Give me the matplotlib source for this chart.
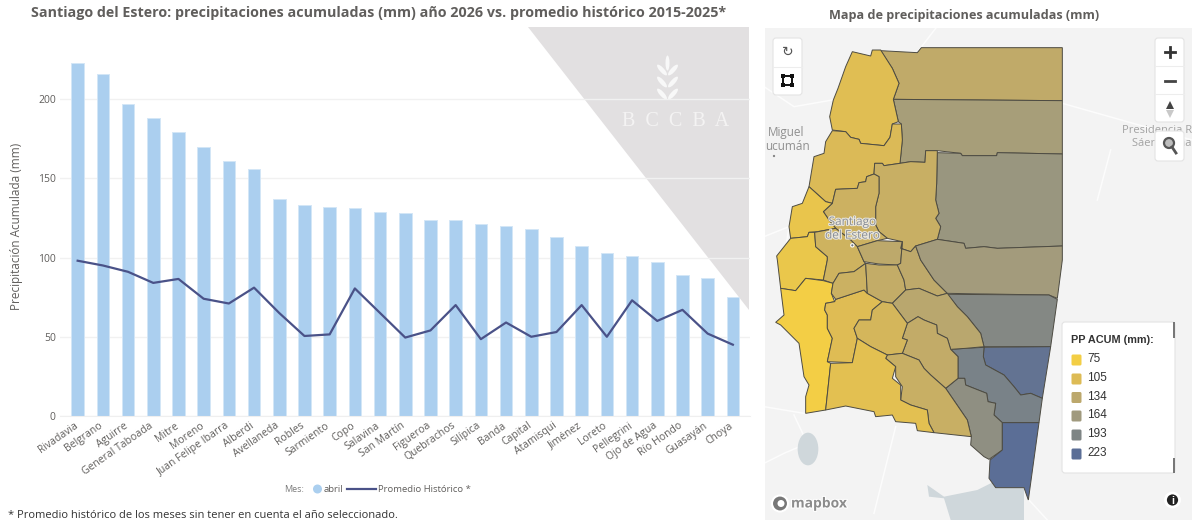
import matplotlib
matplotlib.use("Agg")
import matplotlib.pyplot as plt
import matplotlib.patheffects as pe
from matplotlib.colors import LinearSegmentedColormap, Normalize
from matplotlib.patches import Polygon, FancyBboxPatch, Ellipse, Circle, Rectangle
from matplotlib.transforms import ScaledTranslation

plt.rcParams['font.family'] = ['Open Sans', 'DejaVu Sans']

departamentos = ["Rivadavia", "Belgrano", "Aguirre", "General Taboada", "Mitre", "Moreno",
                 "Juan Felipe Ibarra", "Alberdi", "Avellaneda", "Robles", "Sarmiento", "Copo",
                 "Salavina", "San Martín", "Figueroa", "Quebrachos", "Silípica", "Banda",
                 "Capital", "Atamisqui", "Jiménez", "Loreto", "Pellegrini", "Ojo de Agua",
                 "Río Hondo", "Guasayán", "Choya"]
abril = [223, 216, 197, 188, 179, 170, 161, 156, 137, 133, 132, 131, 129, 128,
         124, 124, 121, 120, 118, 113, 107, 103, 101, 97, 89, 87, 75]
promedio = [98, 95, 91, 84, 86.5, 74, 71, 81, 65, 50.5, 51.5, 80.5, 65, 49.5,
            54, 70, 48.5, 59, 50, 53, 70, 50, 73, 60, 67, 52, 45]
legend_values = [75, 105, 134, 164, 193, 223]
legend_colors = ["#F3CE45", "#DDBB55", "#BCA86C", "#A09A7E", "#7E8585", "#5B6E96"]

# map outlines. north = upper half, south = lower half (y + 780)
north = {
    "Copo": [(350,152),(460,158),(472,143),(895,143),(895,302),(388,298),(405,250),(385,205)],
    "Alberdi": [(388,298),(895,302),(895,462),(700,458),(698,467),(595,467),(590,460),(520,452),
                (485,452),(483,487),(440,485),(408,490),(415,420),(412,372),(403,365)],
    "Moreno": [(520,458),(590,460),(595,467),(698,467),(700,458),(895,462),(895,738),(700,745),
               (660,740),(605,745),(600,730),(520,718),(530,680),(515,655),(525,640),(515,600),(518,550)],
    "Pellegrini": [(265,155),(320,168),(325,150),(350,150),(385,205),(405,250),(388,298),(403,365),
                   (385,372),(378,412),(360,437),(290,430),(285,418),(260,412),(245,395),(205,390),
                   (197,350),(208,300),(222,265),(245,200)],
    "Jiménez": [(205,392),(245,395),(260,412),(285,418),(290,430),(360,437),(378,412),(385,372),
                (412,372),(415,420),(408,490),(360,497),(355,490),(332,490),(330,522),(308,530),
                (305,545),(285,548),(280,565),(215,568),(205,610),(185,605),(135,560),(150,470),
                (180,460),(185,425)],
    "Figueroa": [(332,490),(355,490),(360,497),(408,490),(440,485),(483,487),(485,452),(520,452),
                 (518,550),(515,600),(525,640),(515,655),(530,680),(520,718),(455,738),(440,755),
                 (410,745),(415,725),(370,715),(345,695),(335,675),(335,620),(345,580),(345,530),(330,522)],
    "Banda": [(215,568),(280,565),(285,548),(305,545),(308,530),(330,522),(345,530),(345,580),
              (335,620),(335,675),(345,695),(370,715),(340,722),(280,740),(260,720),(215,685),
              (195,660),(178,635),(205,610)],
    "Río Hondo": [(135,560),(185,605),(205,610),(178,635),(195,660),(215,685),(160,695),(135,697),
                  (130,710),(80,715),(75,680),(85,620),(115,610)],
    "Guasayán": [(80,715),(130,710),(135,697),(152,697),(155,740),(190,770),(190,780),(178,840),
                 (125,835),(95,872),(50,865),(40,780),(38,768)],
    "Capital": [(152,697),(215,685),(260,720),(280,740),(300,785),(305,790),(270,815),(225,820),
                (207,850),(178,840),(190,780),(190,770),(155,740)],
    "Robles": [(280,740),(340,722),(415,725),(410,790),(400,795),(345,792),(300,785)],
}
south = {
    "Choya": [(125,55),(178,62),(207,70),(202,100),(212,125),(185,130),(182,150),(190,165),(190,205),
              (205,235),(190,305),(200,310),(185,450),(125,460),(125,410),(135,375),(120,350),
              (105,250),(50,195),(35,187),(60,165),(50,85),(95,92)],
    "Loreto": [(190,305),(265,308),(280,235),(270,205),(285,180),(320,180),(325,150),(355,125),
               (310,100),(300,90),(215,118),(212,125),(185,130),(182,150),(190,165),(190,205),(205,235)],
    "Silípica": [(207,70),(225,40),(270,35),(305,10),(310,100),(300,90),(215,118),(202,100)],
    "San Martín": [(305,10),(345,15),(400,15),(420,60),(425,90),(385,130),(355,125),(310,100)],
    "Sarmiento": [(415,-55),(410,-35),(440,-25),(455,-42),(470,0),(510,60),(550,100),(520,108),
                  (465,85),(425,90),(420,60),(400,15),(410,10)],
    "Juan Felipe Ibarra": [(455,-42),(520,-62),(600,-50),(605,-35),(660,-40),(700,-35),(895,-42),
                           (895,0),(880,115),(855,105),(550,100),(510,60),(470,0)],
    "General Taboada": [(550,103),(855,105),(880,118),(860,260),(660,260),(650,220),(610,170),(580,140)],
    "Belgrano": [(660,262),(860,260),(835,415),(800,400),(770,405),(750,380),(720,345),(665,315),(658,290)],
    "Aguirre": [(560,268),(605,265),(660,262),(658,290),(665,315),(720,345),(750,380),(770,405),
                (800,400),(835,415),(825,488),(715,488),(690,465),(695,430),(672,425),(668,400),
                (630,385),(605,375),(602,355),(582,355),(582,290)],
    "Mitre": [(545,385),(582,355),(602,355),(605,375),(630,385),(668,400),(672,425),(695,430),
              (690,465),(715,488),(715,570),(675,598),(660,590),(620,555),(622,530),(610,480)],
    "Rivadavia": [(715,488),(825,488),(793,720),(780,683),(695,683),(675,655),(678,600),(715,570)],
    "Avellaneda": [(385,130),(425,90),(465,85),(520,108),(550,100),(580,140),(610,170),(650,220),
                   (660,260),(605,265),(560,268),(550,235),(520,220),(518,195),(480,180),(462,170),(430,190)],
    "Salavina": [(430,190),(462,170),(480,180),(518,195),(520,220),(550,235),(560,268),(582,290),
                 (582,355),(545,385),(500,345),(480,325),(465,300),(415,280),(430,240),(415,235)],
    "Atamisqui": [(325,150),(355,125),(385,130),(430,190),(415,235),(430,240),(415,280),(370,285),
                  (320,260),(280,235),(270,205),(285,180),(320,180)],
    "Quebrachos": [(370,285),(415,280),(465,300),(480,325),(500,345),(545,385),(610,480),(622,530),
                   (510,518),(495,490),(490,450),(440,435),(410,420),(415,380),(395,350),(395,320),(365,295)],
    "Ojo de Agua": [(200,310),(265,308),(280,235),(320,260),(370,285),(365,295),(395,320),(385,355),
                    (410,375),(410,420),(440,435),(490,450),(495,490),(510,518),(460,512),(455,490),
                    (395,485),(385,465),(335,470),(330,455),(245,438),(185,450)],
}
south_shift = 780

W, H = 1192, 524
fig = plt.figure(figsize=(W / 100, H / 100), dpi=100, facecolor="white")


def add_axes_px(x0, y0, x1, y1, **kw):
    return fig.add_axes([x0 / W, 1 - y1 / H, (x1 - x0) / W, (y1 - y0) / H], **kw)


# back layer, pixel coordinates
back = add_axes_px(0, 0, W, H, zorder=0)
back.set_xlim(0, W)
back.set_ylim(H, 0)
back.axis("off")
back.add_patch(Polygon([(528, 27), (749, 27), (749, 310)], closed=True, fc="#E2E0E1", ec="none"))
for side in (-1, 1):
    for y in (70, 82, 94):
        back.add_patch(Ellipse((676 + side * 5.5 - 8.5, y), 4.5, 14, angle=side * 42, fc="#F8F8F8", ec="none"))
back.add_patch(Ellipse((667.5, 63), 4, 15, fc="#F8F8F8", ec="none"))
back.text(676, 122, "B  C  C  B  A", family=["Liberation Serif"], fontsize=14.5, color="#F4F3F3",
          ha="center", va="center")

# bars and line
ax = add_axes_px(60, 27, 750, 416, zorder=1)
ax.patch.set_alpha(0)
x = list(range(len(departamentos)))
ax.bar(x, abril, width=0.5, color="#ABCFEF", edgecolor="#D3E6F7", linewidth=0.7, zorder=2)
ax.plot(x, promedio, color="#4A5288", linewidth=1.6, zorder=3)
ax.set_xlim(-0.70, 26.68)
ax.set_ylim(0, 245.5)
ax.set_yticks([0, 50, 100, 150, 200])
ax.grid(axis="y", color="#F1F1F1", linewidth=1, zorder=1)
ax.set_axisbelow(True)
for s in ("top", "right", "left"):
    ax.spines[s].set_visible(False)
ax.spines["bottom"].set_color("#EFEFEF")
ax.tick_params(axis="y", length=0, labelsize=7.5, labelcolor="#605E5C", pad=3)
ax.tick_params(axis="x", length=0, pad=3)
ax.set_xticks(x)
ax.set_xticklabels(departamentos, rotation=35, ha="right", rotation_mode="anchor",
                   fontsize=7.5, color="#605E5C")
for lab in ax.get_xticklabels():
    lab.set_transform(lab.get_transform() + ScaledTranslation(-4 / 100, 0, fig.dpi_scale_trans))
ax.set_ylabel("Precipitación Acumulada (mm)", fontsize=8.5, color="#605E5C")
ax.yaxis.set_label_coords(-0.053, 0.488)

# map
cmap = LinearSegmentedColormap.from_list("pp", [((v - 75) / 148, c) for v, c in zip(legend_values, legend_colors)])
norm = Normalize(75, 223)
valores = dict(zip(departamentos, abril))

mapa = add_axes_px(765, 28, W, 520, zorder=1)
mapa.set_xlim(3, 1284)
mapa.set_ylim(1560, 84)
mapa.axis("off")
mapa.add_patch(Rectangle((3, 84), 1281, 1476, fc="#F3F3F3", ec="none"))
# roads and water in the base map
road_lines = [[(515, 85), (465, 150)], [(0, 260), (90, 320), (205, 300)], [(60, 780), (75, 680), (0, 710)],
              [(895, 310), (1284, 420)], [(1040, 450), (1000, 600)], [(90, 1245), (130, 1330), (60, 1360), (0, 1390)],
              [(120, 1240), (0, 1220)], [(795, 1500), (850, 1560)], [(330, 1540), (395, 1280)]]
for pts in road_lines:
    mapa.plot([p[0] for p in pts], [p[1] for p in pts], color="#FCFCFC", linewidth=1.1, zorder=1)
mapa.add_patch(Ellipse((132, 1347), 62, 98, fc="#CFD7DB", ec="none", zorder=1))
mapa.add_patch(Polygon([(490, 1455), (540, 1490), (640, 1470), (690, 1445), (780, 1465), (780, 1560),
                        (560, 1560), (540, 1495), (495, 1490)], closed=True, fc="#CFD7DB", ec="none", zorder=1))

for name, pts in north.items():
    mapa.add_patch(Polygon(pts, closed=True, fc=cmap(norm(valores[name])), ec="#4D4B42", lw=0.7, zorder=2))
for name, pts in south.items():
    shifted = [(p[0], p[1] + south_shift) for p in pts]
    mapa.add_patch(Polygon(shifted, closed=True, fc=cmap(norm(valores[name])), ec="#4D4B42", lw=0.7, zorder=2))

halo = [pe.withStroke(linewidth=1.5, foreground="#E9E6DC")]
mapa.text(265, 685, "Santiago\ndel Estero", fontsize=8.5, color="#8A8F96", ha="center", va="center",
          linespacing=1.05, path_effects=halo, zorder=4)
mapa.add_patch(Circle((265, 736), 5, fc="#6F7680", ec="white", lw=0.8, zorder=4))
mapa.text(65, 397, "Miguel", fontsize=8.5, color="#8F8F8F", ha="center", va="center", zorder=3)
mapa.text(3, 440, "ucumán", fontsize=8.5, color="#8F8F8F", ha="left", va="center", zorder=3)
mapa.add_patch(Circle((30, 468), 4, fc="#666666", ec="white", lw=0.5, zorder=3))
mapa.text(1283, 392, "Presidencia R", fontsize=8, color="#A2A2A2", ha="right", va="center", zorder=3)
mapa.text(1283, 430, "Sáenz Peña", fontsize=8, color="#A2A2A2", ha="right", va="center", zorder=3)

# controls and legend on top, pixel coordinates
top = add_axes_px(0, 0, W, H, zorder=3)
top.set_xlim(0, W)
top.set_ylim(H, 0)
top.axis("off")


def box(x0, y0, x1, y1):
    top.add_patch(FancyBboxPatch((x0 + 2, y0 + 2), x1 - x0 - 4, y1 - y0 - 4, boxstyle="round,pad=2,rounding_size=3",
                                 fc="white", ec="#E3E3E3", lw=0.8))


box(773, 38, 802, 95)
top.plot([773, 802], [66.5, 66.5], color="#EDEDED", lw=0.8)
top.text(787.5, 52, "↻", fontsize=10, color="#555555", ha="center", va="center", family=["DejaVu Sans"])
top.add_patch(Rectangle((783, 76), 9, 9, fc="none", ec="#111111", lw=1.4))
for cx, cy in ((783, 76), (792, 76), (783, 85), (792, 85)):
    top.add_patch(Rectangle((cx - 1.6, cy - 1.6), 3.2, 3.2, fc="#111111", ec="none"))

box(1155, 38, 1184, 122)
box(1155, 131, 1184, 161)
top.plot([1155, 1184], [66, 66], color="#EDEDED", lw=0.8)
top.plot([1155, 1184], [94, 94], color="#EDEDED", lw=0.8)
top.plot([1165, 1175], [52, 52], color="#333333", lw=2)
top.plot([1170, 1170], [47, 57], color="#333333", lw=2)
top.plot([1165, 1175], [81, 81], color="#444444", lw=2)
top.add_patch(Polygon([(1170, 101), (1166, 109), (1174, 109)], closed=True, fc="#444444", ec="none"))
top.add_patch(Polygon([(1170, 118), (1166, 110), (1174, 110)], closed=True, fc="#C9C9C9", ec="none"))
top.add_patch(Circle((1169, 143), 5, fc="#BDBDBD", ec="#555555", lw=1.6))
top.plot([1172, 1176], [147, 153], color="#555555", lw=2)

box(1062, 322, 1175, 473)
top.add_patch(Rectangle((1172.5, 322), 2, 16, fc="#777777", ec="none"))
top.add_patch(Rectangle((1172.5, 458), 2, 15, fc="#777777", ec="none"))
top.text(1071, 340, "PP ACUM (mm):", fontsize=7.8, fontweight="bold", color="#333333", va="center",
         family=["Liberation Sans"])
leg_y = [360, 379, 397.5, 416, 435, 454]
for v, c, y in zip(legend_values, legend_colors, leg_y):
    top.add_patch(FancyBboxPatch((1072.5, y - 4.5), 8, 9, boxstyle="round,pad=1,rounding_size=1.5", fc=c, ec="none"))
    top.text(1087, y - 1, str(v), fontsize=8.5, color="#333333", va="center", family=["Liberation Sans"])

top.add_patch(Circle((1172.5, 500), 7, fc="#222222", ec="white", lw=2))
top.text(1172.5, 500.5, "i", fontsize=7.5, fontweight="bold", color="white", ha="center", va="center",
         family=["Liberation Sans"])
top.add_patch(Circle((780, 503.5), 8, fc="#777777", ec="white", lw=1.5))
top.add_patch(Circle((781, 503.5), 3.5, fc="white", ec="none"))
top.text(791, 503.5, "mapbox", fontsize=10, fontweight="bold", color="#8C8C8C", va="center",
         path_effects=[pe.withStroke(linewidth=1.5, foreground="white")])

# titles, legend and footnote
top.text(378.5, 13.5, "Santiago del Estero: precipitaciones acumuladas (mm) año 2026 vs. promedio histórico 2015-2025*",
         fontsize=10.25, fontweight="bold", color="#605E5C", ha="center", va="center")
top.text(964, 16, "Mapa de precipitaciones acumuladas (mm)", fontsize=9.1, fontweight="bold",
         color="#605E5C", ha="center", va="center")
top.text(284, 489, "Mes:", fontsize=6.5, color="#7A7A7A", va="center")
top.add_patch(Circle((317.5, 489), 4.5, fc="#ABCFEF", ec="none"))
top.text(324, 489, "abril", fontsize=6.8, color="#605E5C", va="center")
top.plot([347, 376], [489, 489], color="#4A5288", lw=1.6)
top.text(378, 489, "Promedio Histórico *", fontsize=6.8, color="#605E5C", va="center")
top.text(8, 516, "* Promedio histórico de los meses sin tener en cuenta el año seleccionado.", fontsize=8.05,
         color="#333333", va="center")

fig.savefig("out.png", dpi=100)
